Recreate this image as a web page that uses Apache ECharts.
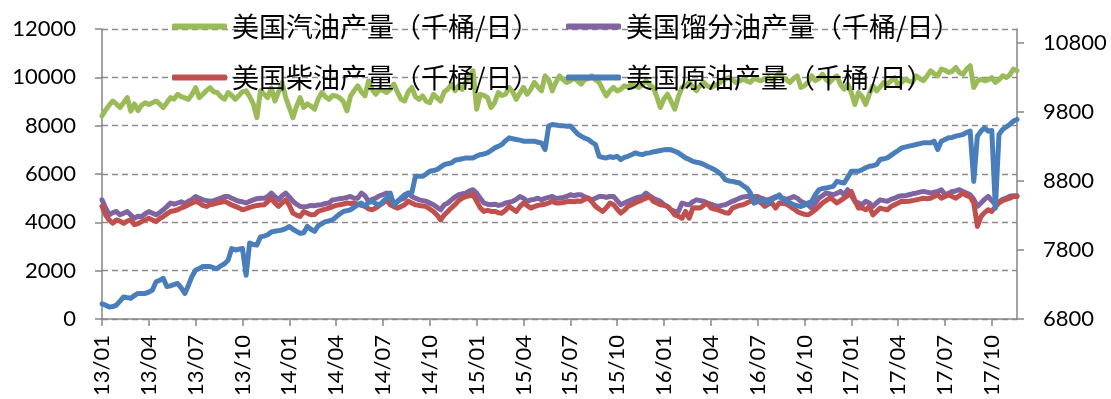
<!DOCTYPE html>
<html>
<head>
<meta charset="utf-8">
<title>美国油品产量</title>
<script src="https://cdn.jsdelivr.net/npm/echarts@6.0.0/dist/echarts.min.js"></script>
<style>
  html, body { margin: 0; padding: 0; background: #fff; }
  #chart { width: 1111px; height: 399px; }
</style>
</head>
<body>
<div id="chart"></div>
<script>
// weekly data, 2013/01 .. 2017/12 (one row = one quarter, 13 weeks)
const names = [
  '美国汽油产量（千桶/日）',
  '美国馏分油产量（千桶/日）',
  '美国柴油产量（千桶/日）',
  '美国原油产量（千桶/日）',
];

const tickLabels = [
  '13/01', '13/04', '13/07', '13/10', '14/01', '14/04', '14/07', '14/10',
  '15/01', '15/04', '15/07', '15/10', '16/01', '16/04', '16/07', '16/10',
  '17/01', '17/04', '17/07', '17/10',
];

const leftTicks = [0, 2000, 4000, 6000, 8000, 10000, 12000];
const rightTicks = [6800, 7800, 8800, 9800, 10800];

const gasoline = [
  8400, 8650, 8850, 9020, 8900, 8750, 8950, 9160, 8600, 8900, 8620, 8850, 8950,
  8880, 8950, 9020, 8900, 8750, 8950, 9160, 9100, 9300, 9200, 9150, 9090, 9300,
  9570, 9160, 9300, 9450, 9570, 9400, 9370, 9200, 9090, 9370, 9250, 9090, 9250,
  9400, 9440, 9200, 8900, 8330, 9440, 9300, 9160, 9570, 9020, 9400, 9780, 9160,
  8750, 8330, 8800, 9160, 8750, 8900, 8810, 8680, 9100, 9370, 9200, 9090, 9250,
  9230, 9150, 9000, 8610, 9230, 9450, 9650, 9400, 9230, 9850, 9500, 9300, 9500,
  9450, 9370, 9500, 9720, 9400, 9100, 9020, 9400, 9580, 9200, 9090, 9230, 9000,
  8950, 9300, 9150, 9020, 9400, 9510, 9720, 9440, 9650, 9500, 9800, 10060, 10270,
  8680, 9300, 9250, 9160, 8750, 8950, 9370, 9250, 9300, 9580, 9400, 9090, 9350,
  9580, 9300, 9500, 9790, 9600, 9440, 10060, 9900, 9440, 9800, 10060, 9900, 9790,
  9850, 9990, 9850, 9720, 9900, 9950, 10060, 9900, 9790, 9500, 9230, 9450, 9580,
  9440, 9500, 9650, 9600, 9720, 9650, 9580, 9700, 9860, 9700, 9580, 9200, 8750,
  9100, 9300, 9000, 8680, 9200, 9580, 9650, 9790, 9600, 9440, 9650, 9790, 9650,
  9580, 9650, 9720, 9850, 9920, 9990, 9900, 9790, 9850, 9920, 9850, 9790, 9950,
  9900, 9860, 9950, 9990, 9900, 10000, 10200, 9990, 9900, 9790, 9950, 10060, 9580,
  9650, 9800, 10060, 9860, 9950, 10130, 9900, 9790, 9950, 10060, 9700, 9510, 9720,
  9370, 8880, 9370, 9200, 8880, 9300, 9650, 9440, 9600, 9790, 9720, 9850, 9990,
  9650, 9800, 9920, 9850, 9790, 10060, 9950, 9860, 10050, 10270, 10150, 10060, 10340,
  10300, 10200, 10250, 10410, 10200, 10130, 10340, 10480, 9580, 9850, 9920, 9860, 9900,
  9990, 9790, 9900, 10060, 9990, 10100, 10340, 10270,
];

const distillate = [
  4930, 4600, 4310, 4400, 4450, 4310, 4380, 4450, 4300, 4170, 4250, 4240, 4350,
  4450, 4380, 4310, 4400, 4520, 4650, 4800, 4750, 4800, 4850, 4780, 4870, 4950,
  5070, 5000, 4930, 4900, 4870, 4900, 4950, 5000, 5070, 5070, 5000, 4930, 4870,
  4850, 4800, 4870, 4930, 4980, 5000, 5000, 5070, 5210, 5070, 4930, 5100, 5210,
  5050, 4870, 4750, 4660, 4650, 4660, 4700, 4690, 4720, 4730, 4780, 4800, 4930,
  4950, 4980, 5000, 5030, 5070, 5000, 5000, 5210, 5100, 4870, 4950, 5000, 5100,
  5150, 5210, 5140, 4730, 4870, 4950, 5000, 5210, 5070, 5000, 4930, 4900, 4870,
  4800, 4730, 4620, 4520, 4730, 4800, 4930, 5050, 5140, 5180, 5210, 5300, 5350,
  5210, 5000, 4800, 4750, 4730, 4750, 4700, 4730, 4800, 4830, 4870, 4950, 5070,
  5000, 4870, 4930, 4950, 5000, 4930, 4990, 5030, 5070, 5000, 5010, 5030, 5070,
  5140, 5100, 5140, 5140, 5050, 5000, 4930, 5000, 5070, 5070, 5030, 5070, 5070,
  4900, 4730, 4800, 4870, 4930, 5000, 5040, 5070, 5210, 5100, 5000, 4930, 4870,
  4730, 4650, 4520, 4450, 4450, 4800, 4750, 4730, 4850, 4930, 4900, 4870, 4800,
  4750, 4700, 4660, 4700, 4730, 4800, 4870, 4930, 5000, 5050, 5070, 5070, 5070,
  5070, 5000, 4950, 4930, 5000, 5070, 5050, 5000, 4950, 5000, 5070, 5000, 4870,
  4800, 4726, 4590, 4800, 5000, 5100, 5210, 5180, 5140, 5200, 5280, 5140, 5350,
  5100, 4870, 4800, 4730, 4870, 4800, 4660, 4800, 4930, 4900, 4870, 4950, 5000,
  5070, 5100, 5100, 5140, 5180, 5210, 5250, 5280, 5250, 5210, 5250, 5280, 5350,
  5150, 5200, 5280, 5300, 5350, 5280, 5210, 5140, 4950, 4660, 4800, 4950, 5070,
  4900, 4730, 4850, 4950, 5000, 5080, 5100, 5100,
];

const diesel = [
  4660, 4300, 4100, 3960, 4100, 4050, 3960, 4050, 4100, 3900, 3950, 4030, 4100,
  4170, 4100, 4030, 4150, 4240, 4350, 4450, 4480, 4520, 4600, 4650, 4730, 4800,
  4870, 4800, 4700, 4660, 4730, 4760, 4800, 4830, 4870, 4800, 4720, 4660, 4600,
  4520, 4560, 4620, 4660, 4700, 4720, 4730, 4850, 5000, 4800, 4660, 4800, 4930,
  4700, 4380, 4300, 4240, 4450, 4380, 4310, 4320, 4450, 4500, 4550, 4590, 4650,
  4700, 4730, 4760, 4800, 4780, 4800, 4750, 4700, 4660, 4560, 4520, 4590, 4700,
  4800, 4930, 4730, 4650, 4590, 4650, 4730, 4870, 4800, 4730, 4700, 4680, 4650,
  4550, 4450, 4300, 4100, 4300, 4450, 4600, 4730, 4900, 5000, 5070, 5100, 5140,
  4870, 4600, 4450, 4500, 4450, 4450, 4400, 4380, 4500, 4660, 4550, 4450, 4650,
  4800, 4700, 4590, 4650, 4700, 4730, 4750, 4800, 4870, 4800, 4800, 4820, 4850,
  4870, 4850, 4880, 4870, 4950, 5000, 4850, 4660, 4550, 4450, 4600, 4800, 4730,
  4550, 4380, 4500, 4660, 4730, 4800, 4870, 4930, 5000, 5070, 4870, 4800, 4730,
  4700, 4660, 4500, 4310, 4250, 4170, 4450, 4170, 4590, 4600, 4590, 4700, 4800,
  4600, 4550, 4520, 4450, 4400, 4380, 4590, 4650, 4700, 4730, 4800, 4870, 4900,
  4930, 4800, 4660, 4750, 4800, 4590, 4800, 4790, 4750, 4660, 4560, 4450, 4380,
  4330, 4310, 4400, 4520, 4650, 4800, 4900, 5000, 4930, 4800, 4900, 5000, 5100,
  5280, 4900, 4590, 4600, 4520, 4650, 4310, 4450, 4590, 4550, 4520, 4650, 4730,
  4800, 4870, 4860, 4870, 4900, 4930, 4960, 5000, 4980, 5000, 5070, 5140, 5000,
  5070, 5140, 5070, 5000, 5100, 5210, 5100, 5050, 4800, 3830, 4240, 4400, 4520,
  4450, 4650, 4800, 4900, 4950, 5000, 5070, 5070,
];

const crude = [
  7020, 7000, 6975, 6980, 7000, 7060, 7120, 7110, 7100, 7140, 7170, 7170, 7170,
  7190, 7220, 7340, 7360, 7390, 7270, 7280, 7300, 7315, 7250, 7170, 7290, 7420,
  7510, 7530, 7560, 7560, 7560, 7540, 7530, 7570, 7600, 7650, 7820, 7800, 7810,
  7820, 7435, 7900, 7880, 7870, 7990, 8000, 8020, 8060, 8070, 8080, 8090, 8110,
  8140, 8100, 8070, 8040, 8050, 8140, 8100, 8070, 8150, 8180, 8210, 8220, 8236,
  8280, 8320, 8357, 8370, 8381, 8420, 8454, 8478, 8430, 8490, 8502, 8470, 8454,
  8500, 8551, 8624, 8454, 8500, 8551, 8600, 8624, 8624, 8866, 8866, 8866, 8900,
  8939, 8950, 8963, 9000, 9036, 9050, 9060, 9100, 9109, 9120, 9133, 9133, 9133,
  9160, 9181, 9190, 9206, 9240, 9278, 9300, 9327, 9380, 9424, 9410, 9400, 9390,
  9375, 9375, 9375, 9375, 9360, 9351, 9254, 9594, 9618, 9610, 9600, 9600, 9590,
  9594, 9540, 9480, 9448, 9420, 9400, 9360, 9327, 9157, 9140, 9133, 9150, 9140,
  9157, 9109, 9140, 9157, 9180, 9206, 9190, 9181, 9200, 9206, 9220, 9230, 9240,
  9250, 9254, 9250, 9230, 9206, 9170, 9133, 9110, 9084, 9070, 9060, 9040, 9012,
  8990, 8963, 8930, 8890, 8818, 8800, 8793, 8780, 8769, 8730, 8696, 8624, 8478,
  8500, 8527, 8500, 8478, 8530, 8560, 8599, 8527, 8502, 8480, 8454, 8440, 8430,
  8450, 8480, 8502, 8600, 8672, 8690, 8696, 8710, 8721, 8793, 8780, 8769, 8850,
  8939, 8939, 8939, 8963, 8990, 9012, 9020, 9036, 9109, 9120, 9133, 9170, 9206,
  9240, 9278, 9290, 9303, 9315, 9327, 9340, 9351, 9351, 9351, 9375, 9254, 9375,
  9400, 9424, 9430, 9448, 9460, 9472, 9500, 9521, 8793, 9448, 9520, 9569, 9521,
  9530, 8405, 9472, 9545, 9580, 9618, 9666, 9691,
];

// one category per week, starting with the first Friday of 2013
const weeks = [];
const start = new Date(2013, 0, 4);
for (let i = 0; i < gasoline.length; i++) {
  const d = new Date(start.getTime() + i * 7 * 86400000);
  weeks.push(d.getFullYear() + '/' + (d.getMonth() + 1) + '/' + d.getDate());
}

const colors = ['#9bbb59', '#8064a2', '#c0504d', '#4a7ebb'];
const axisColor = '#868686';
const numFont = 'Lato, "Liberation Sans", sans-serif';
const plain = (v) => String(v);

const makeLine = (name, data, color, yAxisIndex) => ({
  name,
  type: 'line',
  data,
  yAxisIndex,
  symbol: 'none',
  showSymbol: false,
  lineStyle: { color, width: 5, join: 'round', cap: 'round' },
  itemStyle: { color },
  emphasis: { disabled: true },
});

const legendBase = {
  orient: 'vertical',
  top: 13,
  padding: 0,
  itemGap: 24,
  icon: 'roundRect',
  itemWidth: 55,
  itemHeight: 6,
  textStyle: { fontSize: 27, color: '#000', fontFamily: '"Noto Sans CJK SC", sans-serif' },
};

const chart = echarts.init(document.getElementById('chart'));
chart.setOption({
  animation: false,
  color: colors,
  grid: { left: 102, right: 94, top: 29, bottom: 80, containLabel: false, outerBoundsMode: 'none' },
  legend: [
    { ...legendBase, left: 172, data: [names[0], names[2]] },
    { ...legendBase, left: 566, data: [names[1], names[3]] },
  ],
  xAxis: {
    type: 'category',
    data: weeks,
    boundaryGap: false,
    axisLine: { lineStyle: { color: axisColor, width: 1.5 } },
    axisTick: { interval: 12, length: 7, lineStyle: { color: axisColor, width: 1.5 } },
    axisLabel: {
      interval: 12,
      rotate: 90,
      margin: 16,
      fontSize: 22,
      color: '#000',
      fontFamily: numFont,
      formatter: (v, i) => tickLabels[Math.round(i / 13)],
    },
  },
  yAxis: [
    {
      type: 'value',
      position: 'left',
      min: leftTicks[0],
      max: leftTicks[leftTicks.length - 1],
      interval: 2000,
      axisLine: { show: true, lineStyle: { color: axisColor, width: 1.5 } },
      axisTick: { show: true, length: 7, lineStyle: { color: axisColor, width: 1.5 } },
      axisLabel: { margin: 26, fontSize: 22, color: '#000', fontFamily: numFont, formatter: plain },
      splitLine: { lineStyle: { type: [6, 4], color: '#8c8c8c', width: 1.3 } },
    },
    {
      type: 'value',
      position: 'right',
      min: 6800,
      max: 11000,
      axisLine: { show: true, lineStyle: { color: axisColor, width: 1.5 } },
      axisTick: { show: true, length: 7, customValues: rightTicks, lineStyle: { color: axisColor, width: 1.5 } },
      axisLabel: {
        margin: 26, fontSize: 22, color: '#000', fontFamily: numFont,
        customValues: rightTicks, formatter: plain,
      },
      splitLine: { show: false },
    },
  ],
  series: [
    makeLine(names[0], gasoline, colors[0], 0),
    makeLine(names[1], distillate, colors[1], 0),
    makeLine(names[2], diesel, colors[2], 0),
    makeLine(names[3], crude, colors[3], 1),
  ],
});
</script>
</body>
</html>
